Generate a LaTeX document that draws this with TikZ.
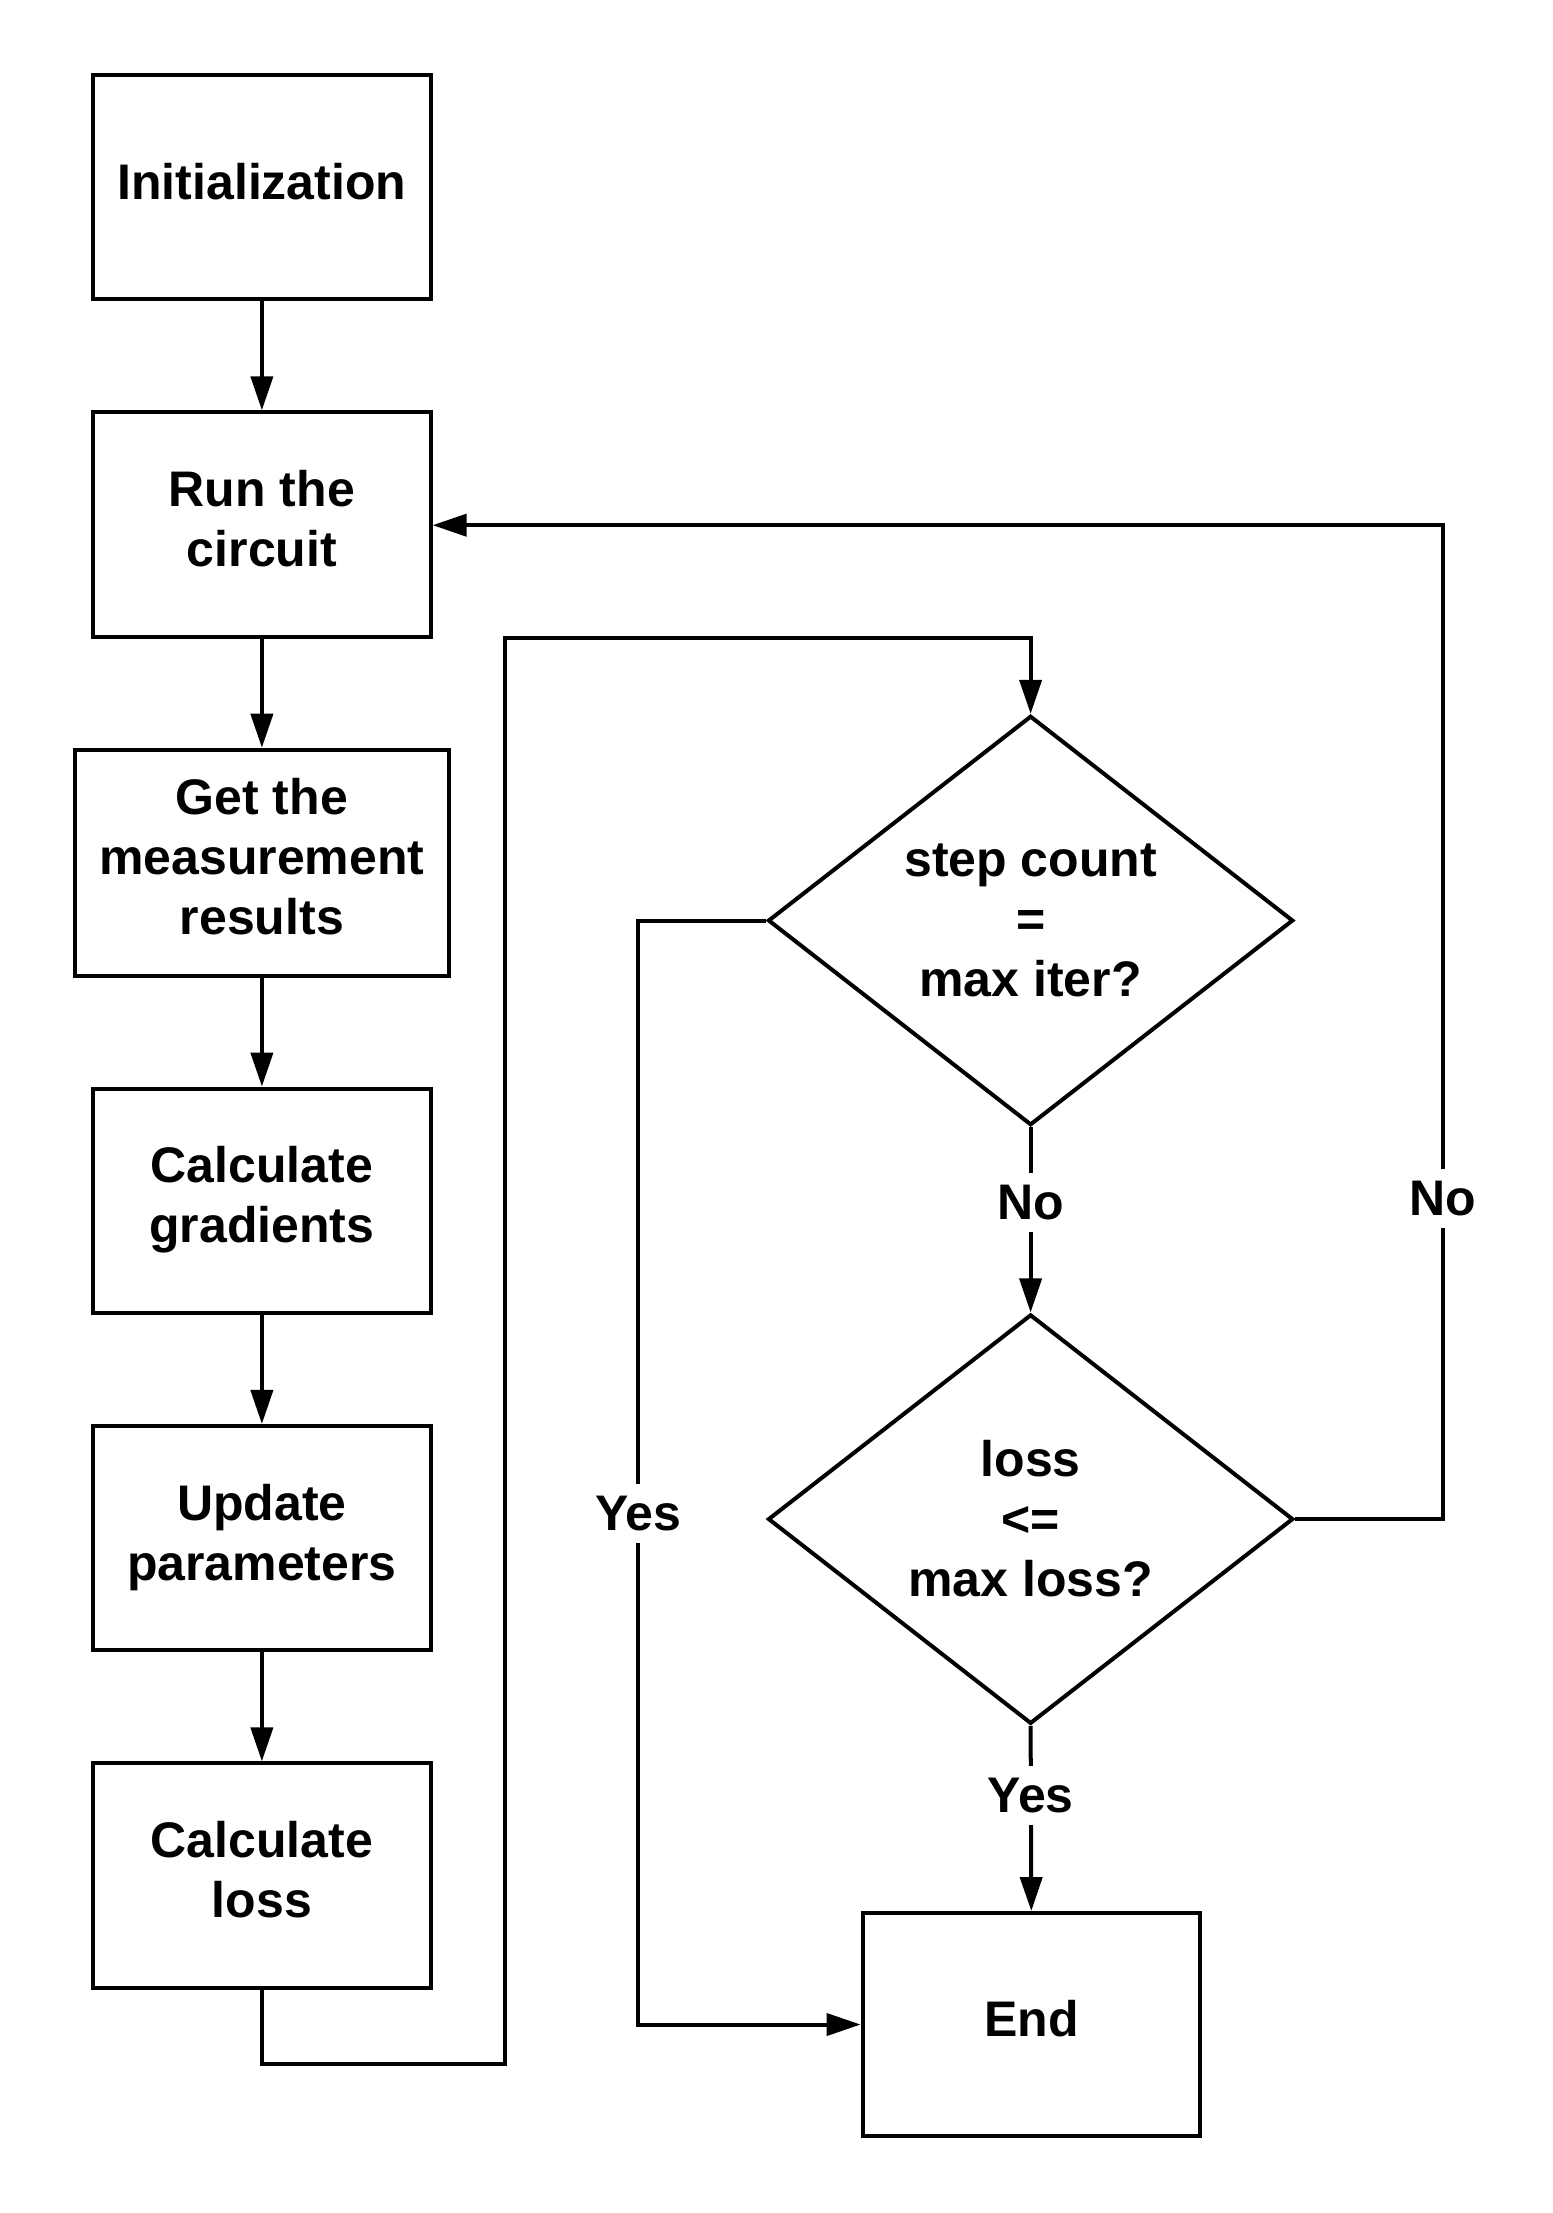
\documentclass[tikz,border=0pt]{standalone}
\usepackage{fontspec}
\setmainfont{Liberation Sans}
\usetikzlibrary{shapes.geometric,arrows.meta}
\begin{document}
\begin{tikzpicture}[x=0.7059pt,y=-0.7059pt,
  every node/.style={font=\bfseries\fontsize{25pt}{30pt}\selectfont, align=center},
  box/.style={draw, line width=2pt, minimum width=168.7pt, minimum height=112.2pt, inner sep=0pt, text depth=6pt},
  widebox/.style={box, minimum width=187.1pt, minimum height=112.9pt},
  dia/.style={draw, diamond, line width=2pt, minimum width=262.6pt, minimum height=204.7pt, inner sep=0pt},
  conn/.style={line width=2pt},
  arr/.style={conn, -{Triangle[length=17pt,width=11pt]}},
  lbl/.style={fill=white, inner xsep=2pt, inner ysep=6pt}]
\useasboundingbox (0,0) rectangle (1100,1567.5);
\node[box] (init) at (185.5,132.5) {Initialization};
\node[box] (run) at (185.5,371.5) {Run the\\circuit};
\node[widebox] (get) at (185.5,611) {Get the\\measurement\\results};
\node[box] (grad) at (185.5,850.5) {Calculate\\gradients};
\node[box] (upd) at (185.5,1089.5) {Update\\parameters};
\node[box] (loss) at (185.5,1328.5) {Calculate\\loss};
\node[dia] (d1) at (730,652) {};
\node (d1t) at (d1.center) {step count\\=\\max iter?};
\node[dia] (d2) at (730,1076) {};
\node (d2t) at (d2.center) {loss\\<=\\max loss?};
\node[box, minimum height=111.5pt] (endn) at (730.5,1434) {End};

\coordinate (c1) at (358,1462);
\coordinate (c2) at (358,452);
\coordinate (c3) at (452,1434);
\coordinate (c4) at (1022,372);

\draw[arr] (init) -- (run);
\draw[arr] (run) -- (get);
\draw[arr] (get) -- (grad);
\draw[arr] (grad) -- (upd);
\draw[arr] (upd) -- (loss);
\draw[arr] (loss.south) |- (c1) -- (c2) -| (d1.north);
\draw[arr] (d1.west) -| (c3) -- (endn.west);
\draw[arr] (d1.south) -- (d2.north);
\draw[arr] (d2.south) -- (endn.north);
\draw[arr] (d2.east) -| (c4) -- (run.east |- c4);

\node[lbl] (l1) at (452,1072) {Yes};
\node[lbl] (l2) at (730,852) {No};
\node[lbl] (l3) at (730,1272) {Yes};
\node[lbl] (l4) at (1022,849) {No};
\end{tikzpicture}
\end{document}
